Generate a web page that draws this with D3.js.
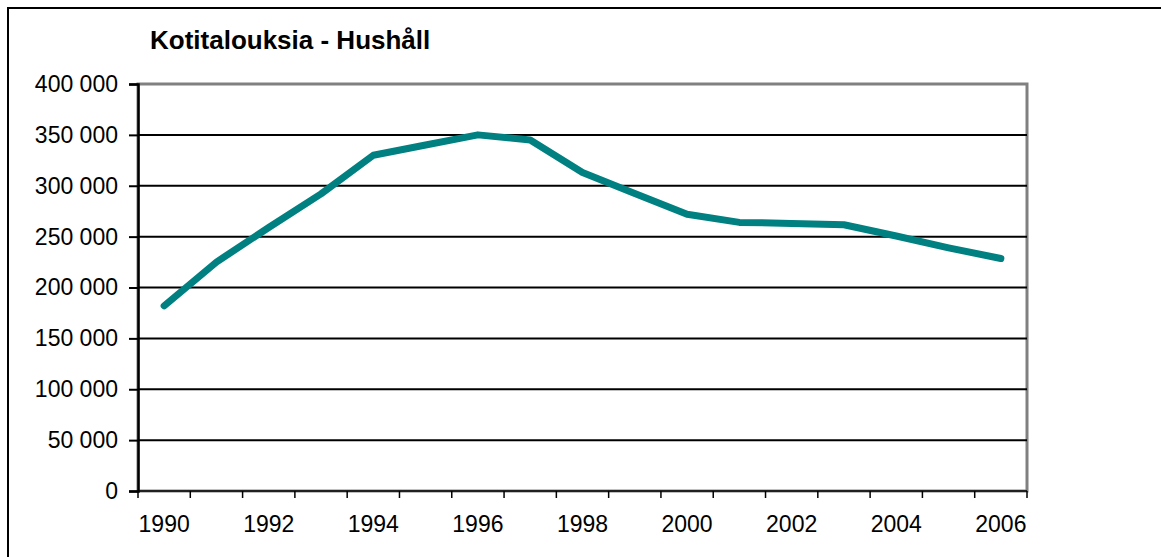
<!DOCTYPE html>
<html>
<head>
<meta charset="utf-8">
<script src="https://cdn.jsdelivr.net/npm/d3@7"></script>
<style>
  body { margin: 0; background: #fff; }
  text { font-family: Arial, "Liberation Sans", sans-serif; }
</style>
</head>
<body>
<div id="chart-area"></div>
<script>
// data
var years = [1990, 1991, 1992, 1993, 1994, 1995, 1996, 1997, 1998, 1999,
             2000, 2001, 2002, 2003, 2004, 2005, 2006];
var households = [182000, 225000, 259000, 292000, 330000, 340000, 350000, 345000, 313000, 292500,
                  272000, 264000, 263000, 261700, 250600, 239000, 228500];
var yTicks = [0, 50000, 100000, 150000, 200000, 250000, 300000, 350000, 400000];
var xLabels = [1990, 1992, 1994, 1996, 1998, 2000, 2002, 2004, 2006];
var title = "Kotitalouksia - Hushåll";

var W = 1161, H = 557;
var margin = { left:138, right:134, top:84, bottom:66 };
var width = W - margin.left - margin.right,
    height = H - margin.top - margin.bottom;

var svg = d3.select("#chart-area")
    .append("svg")
        .attr("width", W)
        .attr("height", H);

// outer frame
svg.append("rect")
    .attr("x", 8).attr("y", 8)
    .attr("width", W + 20).attr("height", H + 20)
    .attr("fill", "none")
    .attr("stroke", "#000")
    .attr("stroke-width", 2);

svg.append("text")
    .attr("x", 150).attr("y", 49)
    .attr("font-size", 26)
    .attr("font-weight", "bold")
    .text(title);

var g = svg.append("g")
    .attr("transform", "translate(" + margin.left + ", " + margin.top + ")");

var x = d3.scaleBand()
    .domain(years)
    .range([0, width])
    .padding(0);

var y = d3.scaleLinear()
    .domain([0, 400000])
    .range([height, 0]);

// plot area border
g.append("rect")
    .attr("width", width).attr("height", height)
    .attr("fill", "#fff")
    .attr("stroke", "#808080")
    .attr("stroke-width", 3);

// gridlines
g.selectAll(".grid")
    .data(yTicks.filter(d => d > 0 && d < 400000))
    .enter().append("line")
        .attr("x1", 0).attr("x2", width)
        .attr("y1", d => y(d)).attr("y2", d => y(d))
        .attr("stroke", "#000")
        .attr("stroke-width", 2);

var fmt = d3.formatLocale({ decimal: ",", thousands: " ", grouping: [3], currency: ["", ""] }).format(",d");

var yAxis = g.append("g")
    .call(d3.axisLeft(y).tickValues(yTicks).tickFormat(fmt).tickSize(9).tickPadding(11));
yAxis.select(".domain").attr("stroke", "#000").attr("stroke-width", 2.5);
yAxis.selectAll(".tick line").attr("stroke", "#000").attr("stroke-width", 2);
yAxis.selectAll("text").attr("font-size", 23).attr("fill", "#000")
    .style("font-family", "Arial, 'Liberation Sans', sans-serif");

// x axis: ticks at category boundaries, labels at centres
var xg = g.append("g").attr("transform", "translate(0," + height + ")");
xg.append("line")
    .attr("x1", 0).attr("x2", width)
    .attr("stroke", "#000").attr("stroke-width", 1.5);
var bounds = years.map(d => x(d)).concat([width]);
xg.selectAll(".xtick")
    .data(bounds)
    .enter().append("line")
        .attr("x1", d => d).attr("x2", d => d)
        .attr("y1", 0).attr("y2", 7)
        .attr("stroke", "#000").attr("stroke-width", 1.5);
xg.selectAll(".xlabel")
    .data(xLabels)
    .enter().append("text")
        .attr("x", d => x(d) + x.bandwidth() / 2)
        .attr("y", 41)
        .attr("text-anchor", "middle")
        .attr("font-size", 23)
        .text(d => d);

// line
var line = d3.line()
    .x((d, i) => x(years[i]) + x.bandwidth() / 2)
    .y(d => y(d));

g.append("path")
    .datum(households)
    .attr("d", line)
    .attr("fill", "none")
    .attr("stroke", "#008080")
    .attr("stroke-width", 7)
    .attr("stroke-linejoin", "round")
    .attr("stroke-linecap", "round");
</script>
</body>
</html>
